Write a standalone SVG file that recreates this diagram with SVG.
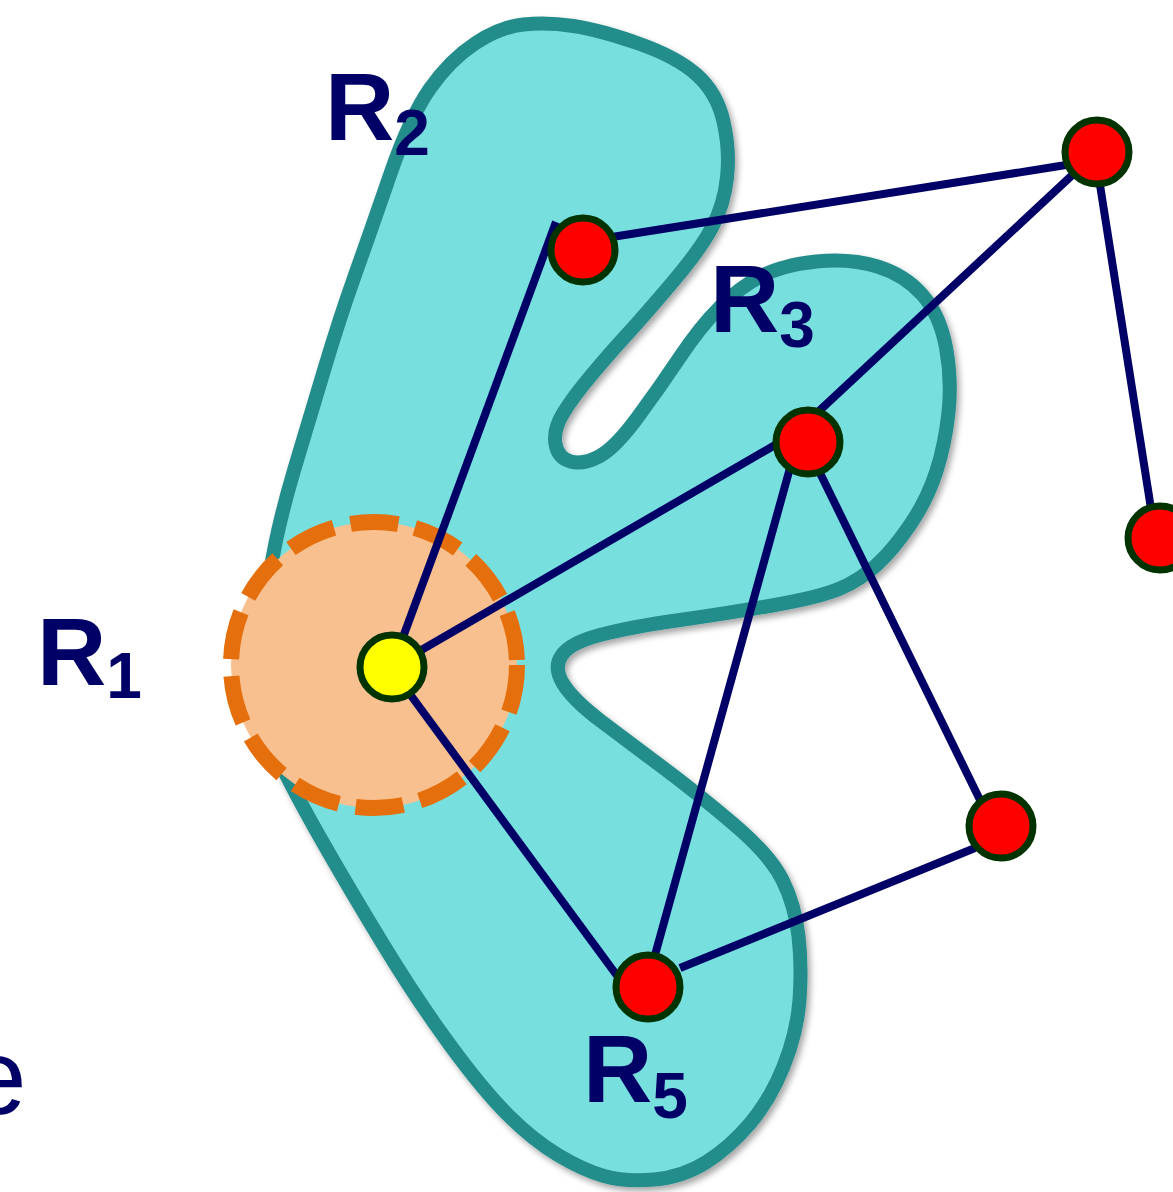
<svg xmlns="http://www.w3.org/2000/svg" width="1173" height="1192" viewBox="0 0 1173 1192">
<style>
.blob{fill:#78dfdf;stroke:#228d8b;stroke-width:14;stroke-linejoin:round}
.zone{fill:#f9c08f;stroke:#e46f0c;stroke-width:16;stroke-dasharray:48 17}
.edge{stroke:#000066;stroke-width:8;fill:none}
.node{fill:#ff0000;stroke:#003300;stroke-width:7}
.src{fill:#ffff00;stroke:#003300;stroke-width:7}
.lbl{font-family:"Liberation Sans",Arial,sans-serif;font-weight:bold;font-size:96px;fill:#000066}
.sub{font-size:64px}
.txt{font-family:"Liberation Sans",Arial,sans-serif;font-size:107px;fill:#000066}
</style>
<defs>
<filter id="shadow" x="-10%" y="-10%" width="120%" height="120%">
<feDropShadow dx="3" dy="4" stdDeviation="3" flood-color="#000" flood-opacity="0.35"/>
</filter>
</defs>
<g id="region-blob">
<path class="blob" filter="url(#shadow)" d="M 523.5,24.5 Q 547,22 573.5,26 Q 600,30 638.5,43.5 Q 677,57 697,75 Q 717,93 723.5,121.5 Q 730,150 727,177.5 Q 724,205 712,227.5 Q 700,250 671.5,283.5 Q 643,317 626.5,335 Q 610,353 591.5,375 Q 573,397 563,413.5 Q 553,430 555.5,444 Q 558,458 570.5,461.5 Q 583,465 599,456.5 Q 615,448 637.5,417.5 Q 660,387 680,357 Q 700,327 720,307 Q 740,287 761.5,276 Q 783,265 816.5,261.5 Q 850,258 877.5,266.5 Q 905,275 922.5,295 Q 940,315 946,347.5 Q 952,380 948.5,412.5 Q 945,445 936,472.5 Q 927,500 910,525 Q 893,550 876.5,565 Q 860,580 840,588.5 Q 820,597 775,605 Q 730,613 680,620 Q 630,627 600,635 Q 570,643 562,655 Q 553,667 563,683.5 Q 573,700 601.5,721.5 Q 630,743 663.5,768 Q 697,793 733.5,824 Q 770,855 782.5,880 Q 795,905 798.5,936 Q 802,967 799.5,1000 Q 797,1033 783.5,1066.5 Q 770,1100 750,1123.5 Q 730,1147 706.5,1162 Q 683,1177 654,1179.5 Q 625,1182 604,1176 Q 583,1170 558,1155 Q 533,1140 508,1115 Q 483,1090 450,1045 Q 417,1000 383.5,945 Q 350,890 321.5,840 Q 293,790 276.5,755 Q 260,720 262.5,660 Q 265,600 272.5,558.5 Q 280,517 295,467 Q 310,417 325,367 Q 340,317 355,275 Q 370,233 390,175 Q 410,117 430,88.5 Q 450,60 475,43.5 Q 500,27 523.5,24.5 Z"/>
</g>
<g id="region-r1">
<circle class="zone" cx="374" cy="665" r="143"/>
</g>
<g id="edges">
<line class="edge" x1="392" y1="667" x2="556" y2="222"/>
<line class="edge" x1="392" y1="667" x2="775" y2="445"/>
<line class="edge" x1="390" y1="667" x2="618" y2="977"/>
<line class="edge" x1="612" y1="237" x2="1066" y2="165"/>
<line class="edge" x1="818" y1="412" x2="1097" y2="152"/>
<line class="edge" x1="1100" y1="185" x2="1152" y2="515"/>
<line class="edge" x1="790" y1="468" x2="655" y2="955"/>
<line class="edge" x1="820" y1="473" x2="980" y2="800"/>
<line class="edge" x1="680" y1="968" x2="975" y2="848"/>
</g>
<g id="node-src"><circle class="src" cx="392" cy="667" r="32"/></g>
<g id="node-a"><circle class="node" cx="583" cy="250" r="32"/></g>
<g id="node-b"><circle class="node" cx="1097" cy="152" r="32"/></g>
<g id="node-c"><circle class="node" cx="808" cy="442" r="32"/></g>
<g id="node-d"><circle class="node" cx="1160" cy="538" r="32"/></g>
<g id="node-e"><circle class="node" cx="1001" cy="826" r="32"/></g>
<g id="node-f"><circle class="node" cx="648" cy="987" r="32"/></g>
<g id="labels">
<text class="lbl" x="37" y="685">R<tspan class="sub" dy="13">1</tspan></text>
<text class="lbl" x="325" y="140">R<tspan class="sub" dy="15">2</tspan></text>
<text class="lbl" x="710" y="332">R<tspan class="sub" dy="15">3</tspan></text>
<text class="lbl" x="583" y="1102">R<tspan class="sub" dy="16">5</tspan></text>
<text class="txt" x="-33" y="1114">e</text>
</g>
</svg>
